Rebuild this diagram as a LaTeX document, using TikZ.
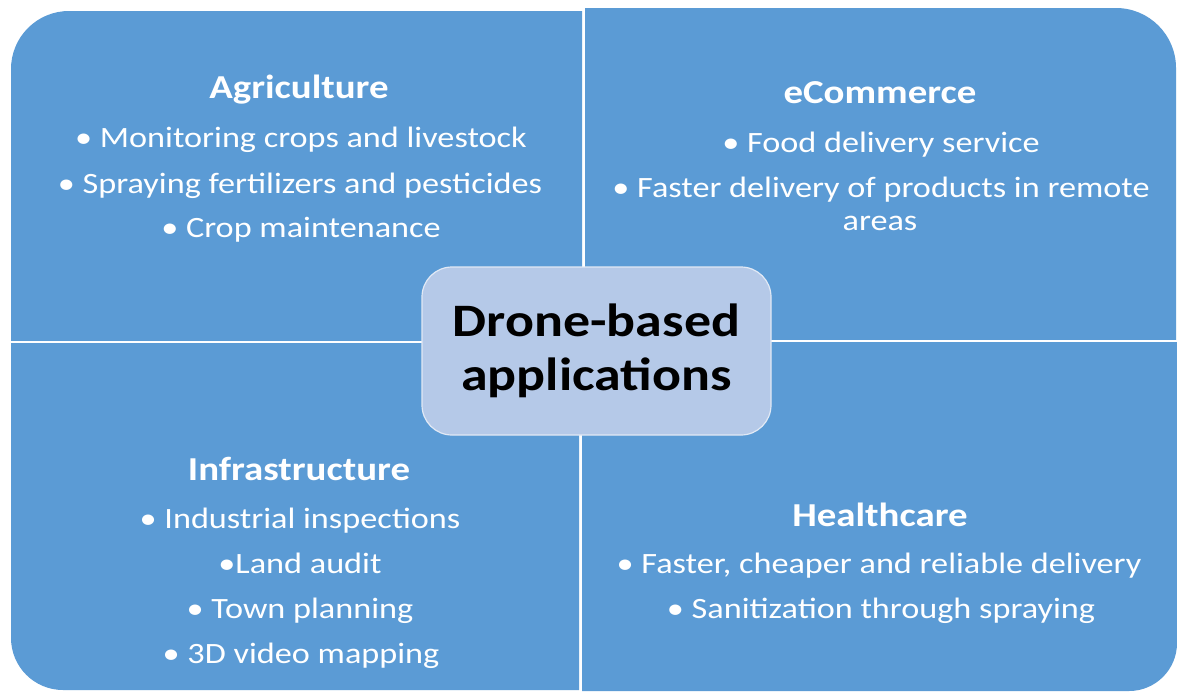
\documentclass[tikz,border=0pt]{standalone}
\usepackage{fontspec}
\setmainfont{Carlito}[FakeStretch=1.16]
\definecolor{quadblue}{RGB}{91,155,213}
\definecolor{hubblue}{RGB}{181,201,232}
\definecolor{hubedge}{RGB}{225,233,245}
\begin{document}
\begin{tikzpicture}[x=1pt,y=-1pt,
  quad/.style={fill=quadblue},
  head/.style={anchor=base,text=white,inner sep=0pt,font=\fontsize{33.5}{38}\selectfont\bfseries},
  item/.style={anchor=base,text=white,inner sep=0pt,font=\fontsize{29.5}{36}\selectfont},
  hubbox/.style={draw=hubedge,line width=1.2pt,fill=hubblue,rounded corners=30pt,
    minimum width=349pt,minimum height=168pt,align=center,inner sep=0pt,
    font=\fontsize{46.5}{54}\selectfont\bfseries}]
\useasboundingbox (0,0) rectangle (1177,691);
\fill[white] (0,0) rectangle (1177,691);

% four quadrants, each with one rounded outer corner
\begin{scope}
  \clip (11,11) rectangle (582,340);
  \fill[quad,rounded corners=58pt] (11,11) rectangle (1100,1000);
\end{scope}
\begin{scope}
  \clip (585,8) rectangle (1176,339);
  \fill[quad,rounded corners=60pt] (0,8) rectangle (1176,1000);
\end{scope}
\begin{scope}
  \clip (11,343) rectangle (579,691);
  \fill[quad,rounded corners=52pt] (11,-500) rectangle (1100,690);
\end{scope}
\begin{scope}
  \clip (582,342) rectangle (1177,691);
  \fill[quad,rounded corners=48pt] (0,-500) rectangle (1177,691);
\end{scope}

% Agriculture
\node[head] (agri) at (299,98) {Agriculture};
\node[item] (agri1) at (301,147) {•\ Monitoring crops and livestock};
\node[item] (agri2) at (300,193) {•\ Spraying fertilizers and pesticides};
\node[item] (agri3) at (301,237) {•\ Crop maintenance};

% eCommerce
\node[head] (ecom) at (880,103) {eCommerce};
\node[item] (ecom1) at (881,152) {•\ Food delivery service};
\node[item] (ecom2) at (881,197) {•\ Faster delivery of products in remote};
\node[item] (ecom3) at (880,230) {areas};

% Infrastructure
\node[head] (infra) at (299,480) {Infrastructure};
\node[item] (infra1) at (300,528) {•\ Industrial inspections};
\node[item] (infra2) at (300,573) {•Land audit};
\node[item] (infra3) at (300,618) {•\ Town planning};
\node[item] (infra4) at (301,663) {•\ 3D video mapping};

% Healthcare
\node[head] (health) at (880,526) {Healthcare};
\node[item] (health1) at (879,573) {•\ Faster, cheaper and reliable delivery};
\node[item] (health2) at (881,618) {•\ Sanitization through spraying};

% centre
\node[hubbox] (hub) at (596.5,351) {Drone-based\\applications};
\end{tikzpicture}
\end{document}
